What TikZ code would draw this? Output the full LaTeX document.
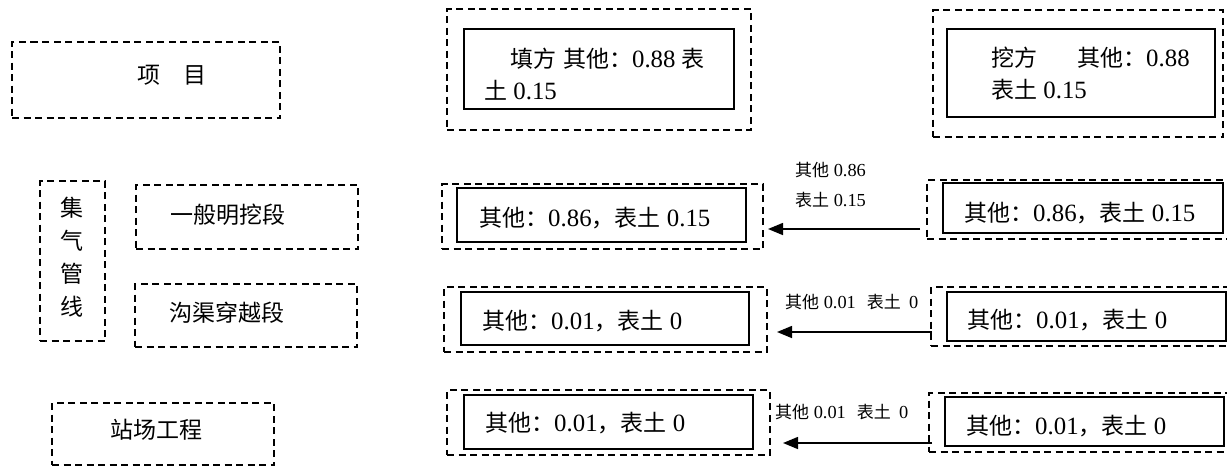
\documentclass[tikz,border=0pt]{standalone}
\usepackage{fontspec}
\setmainfont{Liberation Serif}[Scale=1.08]
\newfontfamily\cjk{Noto Sans CJK SC}
\usetikzlibrary{arrows.meta}
\begin{document}
\begin{tikzpicture}[x=1pt,y=-1pt,
  dbox/.style={draw,line width=1.4pt,dash pattern=on 7pt off 4.5pt,inner sep=0pt,minimum width=#1},
  sbox/.style={draw,line width=1.8pt,inner sep=0pt,minimum width=#1},
  big/.style={inner sep=0pt,font=\fontsize{23pt}{32pt}\selectfont},
  small/.style={inner sep=0pt,font=\fontsize{17pt}{30pt}\selectfont},
  arr/.style={line width=1.5pt,-{Triangle[length=15pt,width=12pt]}}]
\useasboundingbox (0,0) rectangle (1227,467);
\clip (0,0) rectangle (1227,467);
% left column
\node[dbox=268pt,minimum height=76pt] (proj) at (146,80) {};
\node[big] (projt) at (172,75) {\cjk 项\hspace{1em}目};
\node[dbox=65pt,minimum height=160pt] (jq) at (72.5,261) {};
\node[big,align=center,font=\fontsize{23pt}{33pt}\selectfont] (jqt) at (72,257) {\cjk 集\\\cjk 气\\\cjk 管\\\cjk 线};
\node[dbox=222pt,minimum height=64pt] (ybm) at (247,217) {};
\node[big] (ybmt) at (228,215) {\cjk 一般明挖段};
\node[dbox=222pt,minimum height=63pt] (gq) at (246,315.5) {};
\node[big] (gqt) at (227,313) {\cjk 沟渠穿越段};
\node[dbox=222pt,minimum height=62pt] (zc) at (163,434) {};
\node[big] (zct) at (156,430) {\cjk 站场工程};
% middle column
\node[dbox=304pt,minimum height=121pt] (m0o) at (599,69.5) {};
\node[sbox=270pt,minimum height=80pt] (m0i) at (599,69) {};
\node[big,anchor=west,align=left] (m0t) at (484,74) {\hspace*{26pt}{\cjk 填方\hspace{0.3em}其他：}0.88 {\cjk 表}\\{\cjk 土} 0.15};
\node[dbox=321pt,minimum height=65pt] (m1o) at (602.5,216.5) {};
\node[sbox=289pt,minimum height=54pt] (m1i) at (601.5,215) {};
\node[big,anchor=west] (m1t) at (479,218) {{\cjk 其他：}0.86{\cjk ，表土} 0.15};
\node[dbox=323pt,minimum height=65pt] (m2o) at (605.5,319.5) {};
\node[sbox=288pt,minimum height=53pt] (m2i) at (605,318.5) {};
\node[big,anchor=west] (m2t) at (482,321) {{\cjk 其他：}0.01{\cjk ，表土} 0};
\node[dbox=323pt,minimum height=65pt] (m3o) at (608.5,422.5) {};
\node[sbox=289pt,minimum height=54pt] (m3i) at (608.5,422) {};
\node[big,anchor=west] (m3t) at (485,423) {{\cjk 其他：}0.01{\cjk ，表土} 0};
% right column
\node[dbox=290pt,minimum height=127pt] (r0o) at (1078,73.5) {};
\node[sbox=268pt,minimum height=88pt] (r0i) at (1081,73) {};
\node[big,anchor=west,align=left] (r0t) at (991,73.5) {{\cjk 挖方}\hspace{40pt}{\cjk 其他：}0.88\\{\cjk 表土} 0.15};
\node[dbox=308pt,minimum height=59pt] (r1o) at (1081,209.5) {};
\node[sbox=280pt,minimum height=50pt] (r1i) at (1083,208) {};
\node[big,anchor=west] (r1t) at (964,213) {{\cjk 其他：}0.86{\cjk ，表土} 0.15};
\node[dbox=304pt,minimum height=59pt] (r2o) at (1083,316.5) {};
\node[sbox=279pt,minimum height=49pt] (r2i) at (1086.5,316.5) {};
\node[big,anchor=west] (r2t) at (967,320) {{\cjk 其他：}0.01{\cjk ，表土} 0};
\node[dbox=306pt,minimum height=59pt] (r3o) at (1082,422.5) {};
\node[sbox=279pt,minimum height=49pt] (r3i) at (1084.5,421.5) {};
\node[big,anchor=west] (r3t) at (966,426) {{\cjk 其他：}0.01{\cjk ，表土} 0};
% labels
\node[small,anchor=west,align=left] (l1) at (795,185) {{\cjk 其他} 0.86\\{\cjk 表土} 0.15};
\node[small,anchor=west] (l2) at (785,302) {{\cjk 其他}\hspace{0.25em}0.01\hspace{0.6em}{\cjk 表土}\hspace{0.45em}0};
\node[small,anchor=west] (l3) at (775,412) {{\cjk 其他}\hspace{0.25em}0.01\hspace{0.6em}{\cjk 表土}\hspace{0.45em}0};
% arrows
\coordinate (a1s) at (920,229);
\coordinate (a1e) at (768,229);
\coordinate (a2s) at (932,332);
\coordinate (a2e) at (777,332);
\coordinate (a3s) at (932,443);
\coordinate (a3e) at (783,443);
\draw[arr] (a1s) -- (a1e);
\draw[arr] (a2s) -- (a2e);
\draw[arr] (a3s) -- (a3e);
\end{tikzpicture}
\end{document}
